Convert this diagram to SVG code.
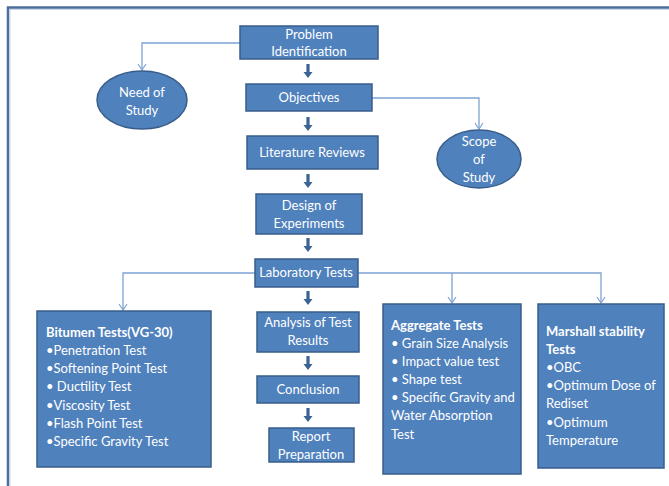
<svg xmlns="http://www.w3.org/2000/svg" width="669" height="486" viewBox="0 0 669 486">
<defs>
<style>
.box{fill:#4f81bd;stroke:#385d8a;stroke-width:1.5}
.t{font-family:Lato,"Liberation Sans",sans-serif;font-size:13px;fill:#ffffff}
.c{text-anchor:middle}
.b{font-weight:bold}
.conn{fill:none;stroke:#7fa3d3;stroke-width:1.3}
.thick{fill:#3b6393}
</style>
<marker id="open" markerWidth="10" markerHeight="10" refX="8" refY="5" orient="auto" markerUnits="userSpaceOnUse" viewBox="0 0 10 10">
<path d="M2,1 L8,5 L2,9" fill="none" stroke="#7fa3d3" stroke-width="1.2"/>
</marker>
<path id="ta" d="M-1.6,0 H1.6 V8 H4.5 L0,14 L-4.5,8 H-1.6 Z"/>
</defs>
<rect x="0" y="0" width="669" height="486" fill="#ffffff"/>
<path d="M8,487 L8,7.5 L670,7.5" fill="none" stroke="#4a6d9c" stroke-width="2.5"/>
<path d="M10,487 L10,9.5 L670,9.5" fill="none" stroke="#c9d6e8" stroke-width="1"/>

<g id="connectors">
<path class="conn" d="M240,43 H142 V70" marker-end="url(#open)"/>
<path class="conn" d="M372,98 H479 V129" marker-end="url(#open)"/>
<path class="conn" d="M255,273 H123 V310" marker-end="url(#open)"/>
<path class="conn" d="M358,273 H601 V303" marker-end="url(#open)"/>
<path class="conn" d="M452,273 V303" marker-end="url(#open)"/>
<use class="thick" href="#ta" x="308" y="64"/>
<use class="thick" href="#ta" x="308" y="117"/>
<use class="thick" href="#ta" x="308" y="174"/>
<use class="thick" href="#ta" x="308" y="238"/>
<use class="thick" href="#ta" x="308" y="291"/>
<use class="thick" href="#ta" x="308" y="356"/>
<use class="thick" href="#ta" x="308" y="408"/>
</g>

<g id="problem">
<rect class="box" x="240" y="26" width="138" height="33"/>
<text class="t c" x="309" y="39">Problem</text>
<text class="t c" x="309" y="56">Identification</text>
</g>
<g id="need">
<ellipse class="box" cx="142" cy="100" rx="45" ry="29"/>
<text class="t c" x="142" y="97">Need of</text>
<text class="t c" x="142" y="115">Study</text>
</g>
<g id="objectives">
<rect class="box" x="246" y="84" width="126" height="27"/>
<text class="t c" x="309" y="102">Objectives</text>
</g>
<g id="scope">
<ellipse class="box" cx="479" cy="159" rx="42" ry="29"/>
<text class="t c" x="479" y="146">Scope</text>
<text class="t c" x="479" y="164">of</text>
<text class="t c" x="479" y="182">Study</text>
</g>
<g id="literature">
<rect class="box" x="247" y="136" width="131" height="33"/>
<text class="t c" x="312" y="157">Literature Reviews</text>
</g>
<g id="design">
<rect class="box" x="256" y="194" width="106" height="40"/>
<text class="t c" x="309" y="210">Design of</text>
<text class="t c" x="309" y="228">Experiments</text>
</g>
<g id="lab">
<rect class="box" x="255" y="259" width="103" height="28"/>
<text class="t c" x="306" y="277">Laboratory Tests</text>
</g>
<g id="bitumen">
<rect class="box" x="37" y="311" width="174" height="156"/>
<text class="t b" x="46" y="337">Bitumen Tests(VG-30)</text>
<text class="t" x="46" y="355">•Penetration Test</text>
<text class="t" x="46" y="373">•Softening Point Test</text>
<text class="t" x="46" y="391">• Ductility Test</text>
<text class="t" x="46" y="410">•Viscosity Test</text>
<text class="t" x="46" y="428">•Flash Point Test</text>
<text class="t" x="46" y="446">•Specific Gravity Test</text>
</g>
<g id="analysis">
<rect class="box" x="257" y="312" width="102" height="40"/>
<text class="t c" x="308" y="327">Analysis of Test</text>
<text class="t c" x="308" y="345">Results</text>
</g>
<g id="conclusion">
<rect class="box" x="257" y="376" width="102" height="27"/>
<text class="t c" x="308" y="394">Conclusion</text>
</g>
<g id="report">
<rect class="box" x="269" y="428" width="85" height="34"/>
<text class="t c" x="311" y="441">Report</text>
<text class="t c" x="311" y="459">Preparation</text>
</g>
<g id="aggregate">
<rect class="box" x="383" y="304" width="138" height="170"/>
<text class="t b" x="391" y="330">Aggregate Tests</text>
<text class="t" x="391" y="348">• Grain Size Analysis</text>
<text class="t" x="391" y="366">• Impact value test</text>
<text class="t" x="391" y="384">• Shape test</text>
<text class="t" x="391" y="402">• Specific Gravity and</text>
<text class="t" x="391" y="420">Water Absorption</text>
<text class="t" x="391" y="439">Test</text>
</g>
<g id="marshall">
<rect class="box" x="538" y="304" width="126" height="164"/>
<text class="t b" x="546" y="336">Marshall stability</text>
<text class="t b" x="546" y="354">Tests</text>
<text class="t" x="546" y="372">•OBC</text>
<text class="t" x="546" y="390">•Optimum Dose of</text>
<text class="t" x="546" y="408">Rediset</text>
<text class="t" x="546" y="427">•Optimum</text>
<text class="t" x="546" y="445">Temperature</text>
</g>
</svg>
